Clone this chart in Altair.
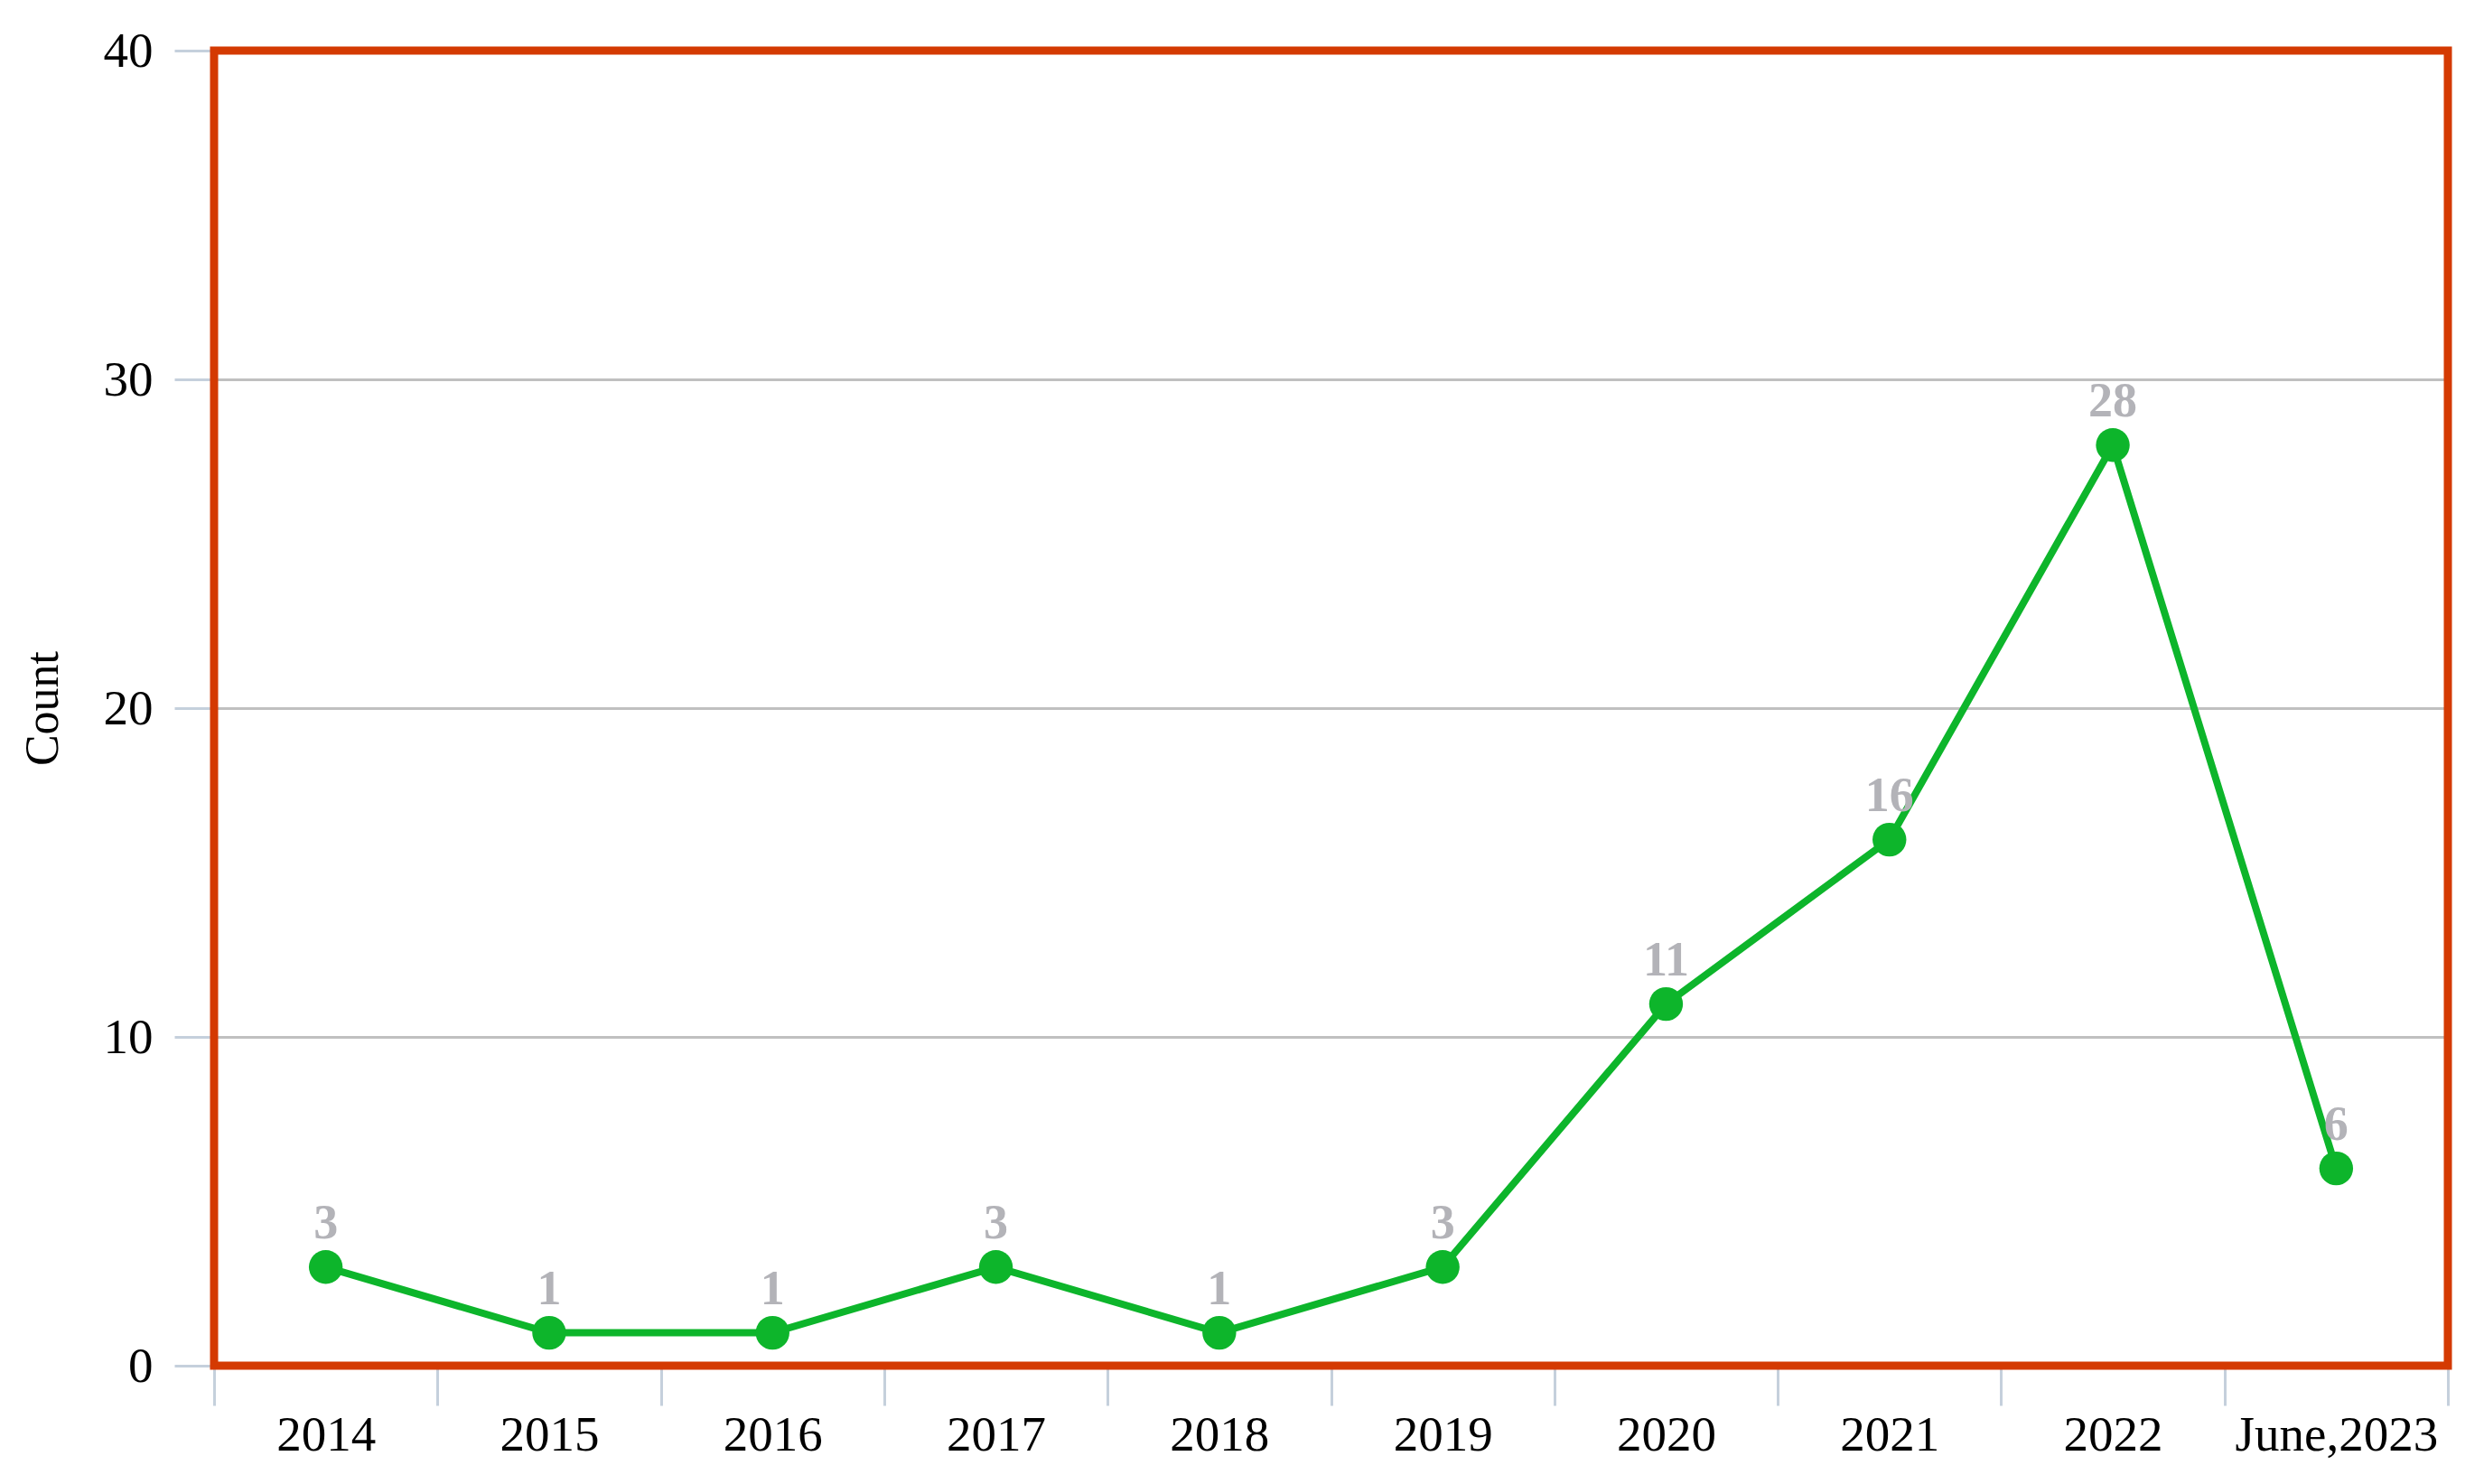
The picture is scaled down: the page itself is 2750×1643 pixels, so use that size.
import altair as alt
import pandas as pd

years = ["2014", "2015", "2016", "2017", "2018", "2019", "2020", "2021", "2022", "June,2023"]
counts = [3, 1, 1, 3, 1, 3, 11, 16, 28, 6]

df = pd.DataFrame({"year": years, "count": counts})

FONT = "Liberation Serif"
GREEN = "#0db52b"
W, H = 2473, 1456

x = alt.X(
    "year:N",
    sort=years,
    bandPosition=0.5,
    scale=alt.Scale(type="band", paddingInner=0, paddingOuter=0),
    axis=alt.Axis(
        title=None,
        labelAngle=0,
        labelLimit=0,
        labelOverlap=False,
        tickBand="extent",
        grid=False,
        tickSize=44,
        tickWidth=3,
        tickColor="#c5d0dc",
        domainColor="#c5d0dc",
        domainWidth=3,
        labelPadding=6,
        labelFont=FONT,
        labelFontSize=55,
        labelColor="#000000",
    ),
)
y = alt.Y(
    "count:Q",
    scale=alt.Scale(domain=[0, 40], nice=False),
    axis=alt.Axis(
        title="Count",
        values=[0, 10, 20, 30, 40],
        grid=True,
        gridColor="#c0c0c0",
        gridWidth=3,
        domain=False,
        tickSize=44,
        tickWidth=3,
        tickColor="#c5d0dc",
        labelPadding=24,
        labelFont=FONT,
        labelFontSize=55,
        labelColor="#000000",
        titleFont=FONT,
        titleFontSize=52,
        titleFontWeight="normal",
        titleColor="#000000",
        titlePadding=40,
    ),
)

base = alt.Chart(df)
line = base.mark_line(color=GREEN, strokeWidth=8).encode(x=x, y=y)
pts = base.mark_circle(color=GREEN, size=1400, opacity=1).encode(x=x, y=y)
labels = base.mark_text(
    font=FONT, fontSize=54, fontWeight="bold", color="#b3b3b8", baseline="middle", dy=-48
).encode(x=x, y=y, text="count:Q")

frame = (
    alt.Chart(pd.DataFrame({"f": [0]}))
    .mark_rect(filled=False, stroke="#d43a02", strokeWidth=9)
    .encode(x=alt.value(0), x2=alt.value(W), y=alt.value(0), y2=alt.value(H))
)

chart = (
    alt.layer(line, pts, labels, frame)
    .properties(
        width=W,
        height=H,
        padding={"left": 229, "top": 48, "right": 20, "bottom": 130},
        autosize=alt.AutoSizeParams(type="none"),
        background="white",
    )
    .configure_view(stroke=None)
)

chart.save("out.html", embed_options={"renderer": "svg", "actions": False})
